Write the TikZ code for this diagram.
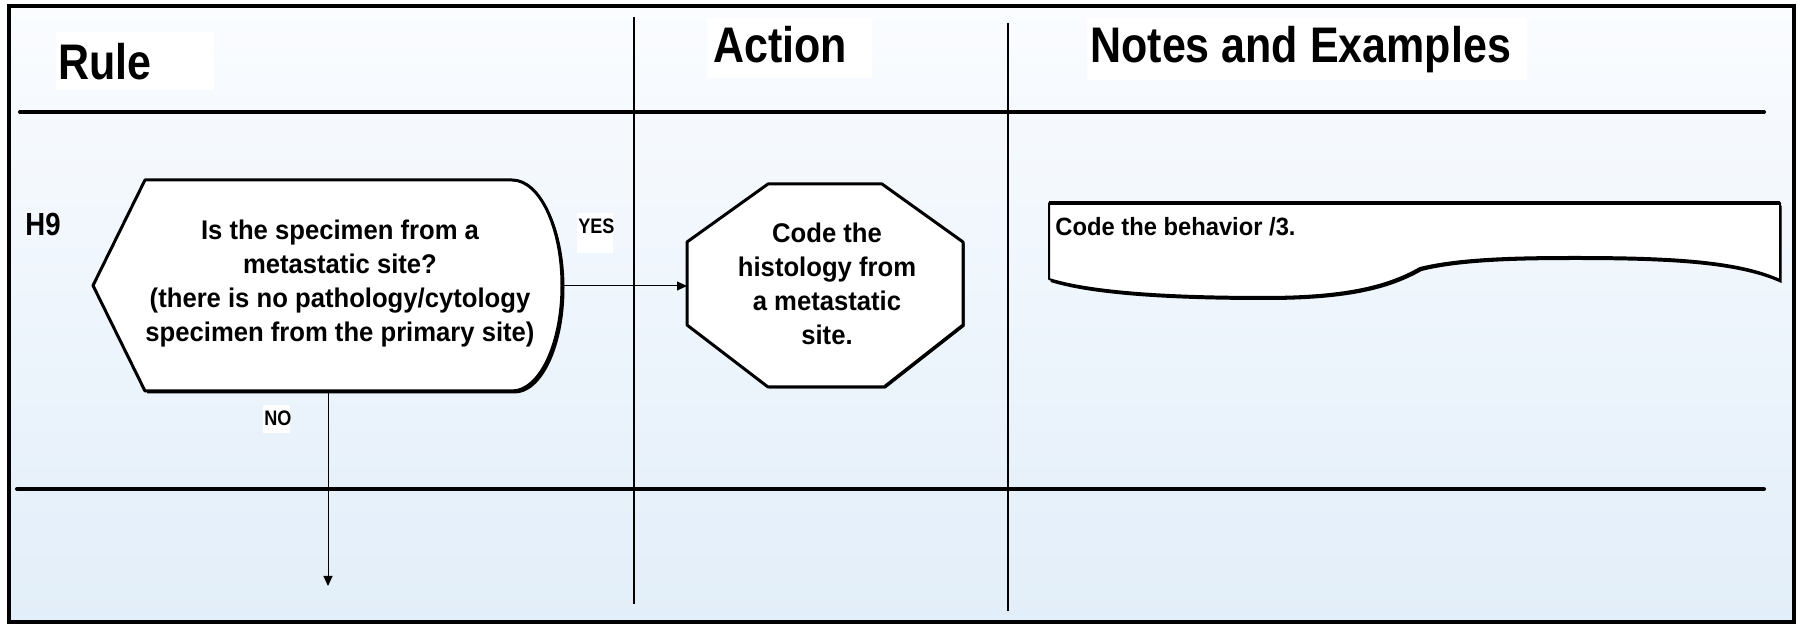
\documentclass[tikz,border=0pt]{standalone}
\usepackage{fontspec}
\setmainfont{Liberation Sans}
\newfontfamily\hfont{Liberation Sans}[FakeStretch=0.86]
\newfontfamily\tfont{Liberation Sans}[FakeStretch=0.95]
\usetikzlibrary{arrows.meta}
\definecolor{bgtop}{RGB}{250,252,255}
\definecolor{bgbot}{RGB}{226,238,249}
\begin{document}
\begin{tikzpicture}[x=0.5pt,y=-0.5pt,
  hdr/.style={font=\hfont\bfseries\fontsize{25}{30}\selectfont, inner sep=0, anchor=base west},
  bodytext/.style={font=\tfont\bfseries\fontsize{13.5}{17}\selectfont, align=center, inner sep=0},
  lbl/.style={font=\hfont\bfseries\fontsize{10.5}{12}\selectfont, inner sep=0, anchor=base west},
  hline/.style={line width=2pt, line cap=round},
  vline/.style={line width=0.75pt},
  arr/.style={line width=0.5pt, -{Triangle[length=5pt,width=4.5pt]}},
  boxshape/.style={fill=white, draw=black, line width=1.5pt, line join=round},
  shadowfill/.style={fill=black}
]
\useasboundingbox (0,0) rectangle (1801,624);
\fill[white] (0,0) rectangle (1801,624);
\shade[top color=bgtop, bottom color=bgbot] (9,6) rectangle (1794,622);
\draw[line width=2pt] (9,6) rectangle (1794,622);

% white label backgrounds
\fill[white] (56,32) rectangle (214,90);
\fill[white] (707,18) rectangle (872,78);
\fill[white] (1087,18) rectangle (1527,80);
\fill[white] (577,213) rectangle (613,253);
\fill[white] (263,405) rectangle (290,433);

% grid lines
\draw[vline] (634,17) -- (634,604);
\draw[vline] (1008,23) -- (1008,611);
\draw[hline] (20,112) -- (1764,112);
\draw[hline] (17,489) -- (1764,489);

% headers
\node[hdr] (hRule) at (58,80) {Rule};
\node[hdr] (hAction) at (713,63) {Action};
\node[hdr] (hNotes) at (1090,63) {Notes and Examples};
\node[font=\hfont\bfseries\fontsize{16}{19}\selectfont, inner sep=0, anchor=base west] (h9) at (25,236) {H9};

% decision shape
\fill[shadowfill, shift={(2.5,2.5)}] (145,180) -- (512,180)
  .. controls (539.6,180) and (562,227) .. (562,285.5)
  .. controls (562,344) and (539.6,391) .. (512,391)
  -- (145,391) -- (93,285.5) -- cycle;
\path[boxshape] (145,180) -- (512,180)
  .. controls (539.6,180) and (562,227) .. (562,285.5)
  .. controls (562,344) and (539.6,391) .. (512,391)
  -- (145,391) -- (93,285.5) -- cycle;
\node[bodytext] (dec) at (340,284) {Is the specimen from a\\metastatic site?\\(there is no pathology/cytology\\specimen from the primary site)};
\coordinate (decE) at (563,286);
\coordinate (decS) at (328,392);

% action octagon
\fill[shadowfill, shift={(1.5,1.5)}] (768,184) -- (882,184) -- (963,242) -- (963,325) -- (884,387) -- (768,387) -- (687,325) -- (687,242) -- cycle;
\path[boxshape] (768,184) -- (882,184) -- (963,242) -- (963,325) -- (884,387) -- (768,387) -- (687,325) -- (687,242) -- cycle;
\node[bodytext] (act) at (827,284) {Code the\\histology from\\a metastatic\\site.};
\coordinate (actW) at (687,286);

% notes document shape
\fill[shadowfill, shift={(1.5,3)}] (1049,203) -- (1780,203) -- (1780,280)
  .. controls (1740,262) and (1680,257) .. (1575,257)
  .. controls (1520,257) and (1460,258) .. (1420,268)
  .. controls (1390,285) and (1350,297) .. (1265,297)
  .. controls (1200,297) and (1100,295) .. (1049,279) -- cycle;
\path[fill=white, draw=black, line width=1pt, line join=round] (1049,203) -- (1780,203) -- (1780,280)
  .. controls (1740,262) and (1680,257) .. (1575,257)
  .. controls (1520,257) and (1460,258) .. (1420,268)
  .. controls (1390,285) and (1350,297) .. (1265,297)
  .. controls (1200,297) and (1100,295) .. (1049,279) -- cycle;
\draw[line width=2pt] (1049,203) -- (1780,203);
\node[font=\tfont\bfseries\fontsize{12.5}{15}\selectfont, inner sep=0, anchor=base west] (note) at (1055,236) {Code the behavior /3.};

% connectors
\coordinate (noEnd) at (328,586);
\draw[arr] (decE) -- (actW);
\draw[arr] (decS) -- (noEnd);
\node[lbl] (yes) at (578,234) {YES};
\node[lbl] (no) at (264,426) {NO};
\end{tikzpicture}
\end{document}
